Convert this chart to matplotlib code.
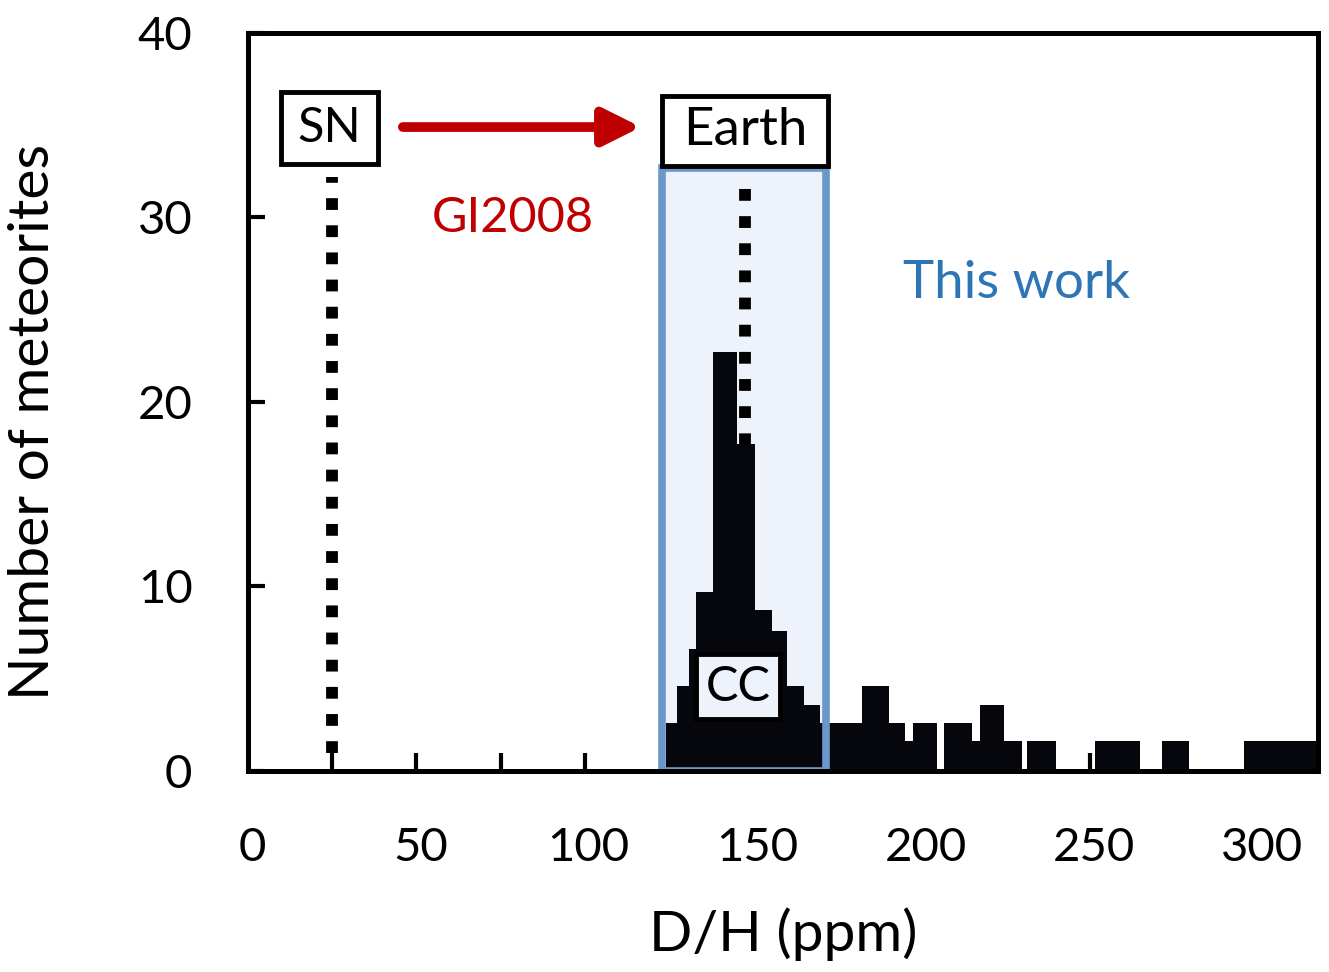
import matplotlib
matplotlib.use('Agg')
import matplotlib.pyplot as plt
from matplotlib.patches import Rectangle, FancyArrowPatch

plt.rcParams['font.family'] = ['Lato', 'DejaVu Sans']

# histogram outline (D/H ppm bin edges, counts)
bin_edges = [123.0, 126.2, 129.8, 131.9, 136.9, 144.0, 149.4, 154.4, 158.9, 163.9,
             168.7, 181.2, 189.2, 193.9, 196.3, 203.4, 205.5, 213.8, 216.2, 223.3,
             228.7, 230.2, 238.8, 250.4, 263.7, 270.3, 278.3, 294.6, 316.6]
counts = [2.6, 4.6, 6.6, 9.7, 22.7, 17.7, 8.7, 7.6, 4.6, 3.6,
          2.6, 4.6, 2.6, 1.6, 2.6, 0, 2.6, 1.6, 3.6, 1.6,
          0, 1.6, 0, 1.6, 0, 1.6, 0, 1.6]

sn_dh = 23.8
earth_dh = 146.4
this_work = (121.8, 170.5)
x_ticks = [0, 50, 100, 150, 200, 250, 300]
y_ticks = [0, 10, 20, 30, 40]

fig = plt.figure(figsize=(13.29, 9.72), dpi=100)
ax = fig.add_axes([0.1866, 0.2068, 0.8051, 0.7593])

# "This work" region: fill under bars, border on top
ax.add_patch(Rectangle((this_work[0], 0), this_work[1] - this_work[0], 32.7,
                       facecolor='#eef3fb', edgecolor='none', zorder=0.5))
ax.add_patch(Rectangle((this_work[0], 0), this_work[1] - this_work[0], 32.7,
                       facecolor='none', edgecolor='#6a98cb', linewidth=5.5, zorder=6))

# dotted reference lines
ax.plot([sn_dh, sn_dh], [1.0, 32.2], color='black', lw=8.5,
        linestyle=(0, (1, 1.3)), zorder=2)
ax.plot([earth_dh, earth_dh], [0, 31.8], color='black', lw=8.5,
        linestyle=(0, (1, 1.3)), zorder=2)

widths = [b - a for a, b in zip(bin_edges[:-1], bin_edges[1:])]
ax.bar(bin_edges[:-1], counts, width=widths, align='edge', color='#05070c',
       edgecolor='none', zorder=3)

ax.set_xlim(-1.2, 316.6)
ax.set_ylim(0, 40)

for s in ax.spines.values():
    s.set_linewidth(3.6)
    s.set_zorder(7)

ax.set_xticks(x_ticks)
ax.set_xticks([23.8 + 25 * k for k in range(12)], minor=True)
ax.tick_params(axis='x', which='major', length=0, labelsize=34, pad=40)
ax.tick_params(axis='x', which='minor', direction='in', length=13, width=3)
ax.set_yticks(y_ticks)
ax.tick_params(axis='y', direction='in', length=12, width=3, labelsize=34, pad=40)

ax.set_xlabel('D/H (ppm)', fontsize=41, labelpad=28)
ax.set_ylabel('Number of meteorites', fontsize=41)
ax.yaxis.set_label_coords(-0.177, 0.473)

# labelled boxes
def label_box(x0, x1, y0, y1, text, size=34, face='white'):
    ax.add_patch(Rectangle((x0, y0), x1 - x0, y1 - y0, facecolor=face,
                           edgecolor='black', linewidth=3.5, zorder=8, clip_on=False))
    ax.text((x0 + x1) / 2, (y0 + y1) / 2, text, fontsize=size, ha='center',
            va='center', zorder=9)

label_box(8.6, 37.4, 32.9, 36.8, 'SN', size=35)
label_box(121.8, 171.1, 32.8, 36.6, 'Earth', size=38)
label_box(131.9, 156.8, 2.8, 6.35, 'CC', size=35, face='#eef3fb')

ax.add_patch(FancyArrowPatch((44.8, 34.9), (115.5, 34.9), arrowstyle='-|>',
                             mutation_scale=56, color='#c00000', linewidth=7,
                             shrinkA=0, shrinkB=0, zorder=8))

ax.text(77.5, 29.95, 'GI2008', color='#c00000', fontsize=35, ha='center', va='center')
ax.text(227.2, 26.4, 'This work', color='#2e75b6', fontsize=38, ha='center', va='center')

fig.savefig('out.png', dpi=100)
